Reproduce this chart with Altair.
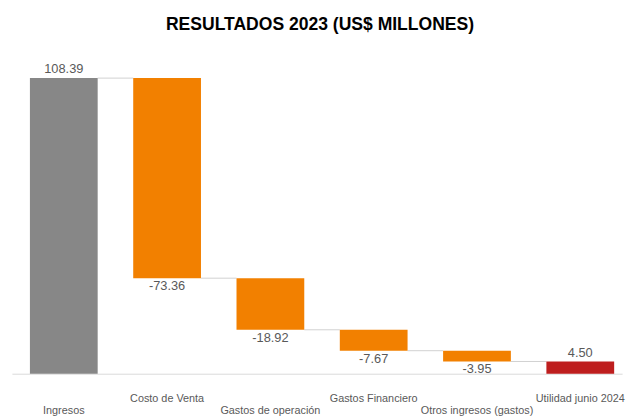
import altair as alt
import pandas as pd

categories = ["Ingresos", "Costo de Venta", "Gastos de operación", "Gastos Financiero",
              "Otros ingresos (gastos)", "Utilidad junio 2024"]
values = [108.39, -73.36, -18.92, -7.67, -3.95, 4.50]
labels = ["108.39", "-73.36", "-18.92", "-7.67", "-3.95", "4.50"]
kinds = ["total", "delta", "delta", "delta", "delta", "result"]
label_row = [1, 0, 1, 0, 1, 0]  # 1 = lower row of category labels
colors = {"total": "#878787", "delta": "#F28000", "result": "#BE1E1E"}

HALF = 0.328  # half bar width, in category units

rows = []
run = 0.0
for i, (c, v, l, k) in enumerate(zip(categories, values, labels, kinds)):
    if k == "delta":
        start, end = run, run + v
    else:
        start, end = 0.0, v
    run = end
    rows.append({"idx": i, "cat": c, "start": start, "end": end, "label": l, "kind": k,
                 "top": max(start, end), "bottom": min(start, end),
                 "x0": i - HALF, "x1": i + HALF, "row": label_row[i],
                 "c0": i + HALF, "c1": i + 1 - HALF, "has_next": 1 if i + 1 < len(categories) else 0})
df = pd.DataFrame(rows)

W, H = 619, 332
xscale = alt.Scale(domain=[-0.502, 5.405], nice=False, zero=False)
yscale = alt.Scale(domain=[0, 120], nice=False)

base = alt.Chart(df)

xaxis = alt.Axis(title=None, labels=False, ticks=False, grid=False,
                 domainColor="#D9D9D9", domainWidth=1)


def X(field):
    return alt.X(field, type="quantitative", scale=xscale, axis=xaxis)


def Y(field):
    return alt.Y(field, type="quantitative", scale=yscale, axis=None)


bars = base.mark_bar().encode(
    x=X("x0"),
    x2="x1:Q",
    y=Y("start"),
    y2="end:Q",
    color=alt.Color("kind:N", scale=alt.Scale(domain=list(colors.keys()), range=list(colors.values())), legend=None),
)

conn = base.transform_filter("datum.has_next == 1").mark_rule(color="#D0D0D0", strokeWidth=1).encode(
    x=X("c0"),
    x2="c1:Q",
    y=Y("end"),
)

txt_up = base.transform_filter("datum.kind != 'delta'").mark_text(
    baseline="bottom", dy=-2, font="Liberation Sans", fontSize=13, color="#595959"
).encode(x=X("idx"), y=Y("top"), text="label:N")

txt_down = base.transform_filter("datum.kind == 'delta'").mark_text(
    baseline="top", dy=2, font="Liberation Sans", fontSize=13, color="#595959"
).encode(x=X("idx"), y=Y("bottom"), text="label:N")

cat_hi = base.transform_filter("datum.row == 0").mark_text(
    baseline="middle", font="Liberation Sans", fontSize=11, color="#595959"
).encode(x=X("idx"), y=alt.value(H + 26), text="cat:N")

cat_lo = base.transform_filter("datum.row == 1").mark_text(
    baseline="middle", font="Liberation Sans", fontSize=11, color="#595959"
).encode(x=X("idx"), y=alt.value(H + 38), text="cat:N")

chart = alt.layer(conn, bars, txt_up, txt_down, cat_hi, cat_lo).properties(
    width=W, height=H,
    title=alt.Title("RESULTADOS 2023 (US$ MILLONES)", font="Liberation Sans", fontSize=17.8,
                    fontWeight="bold", color="#000000", anchor="middle", offset=12.5, dx=3),
    padding={"left": 4, "top": 5, "right": 5, "bottom": 5},
).configure_view(strokeWidth=0)

chart.save("out.html", embed_options={"renderer": "svg", "actions": False})
